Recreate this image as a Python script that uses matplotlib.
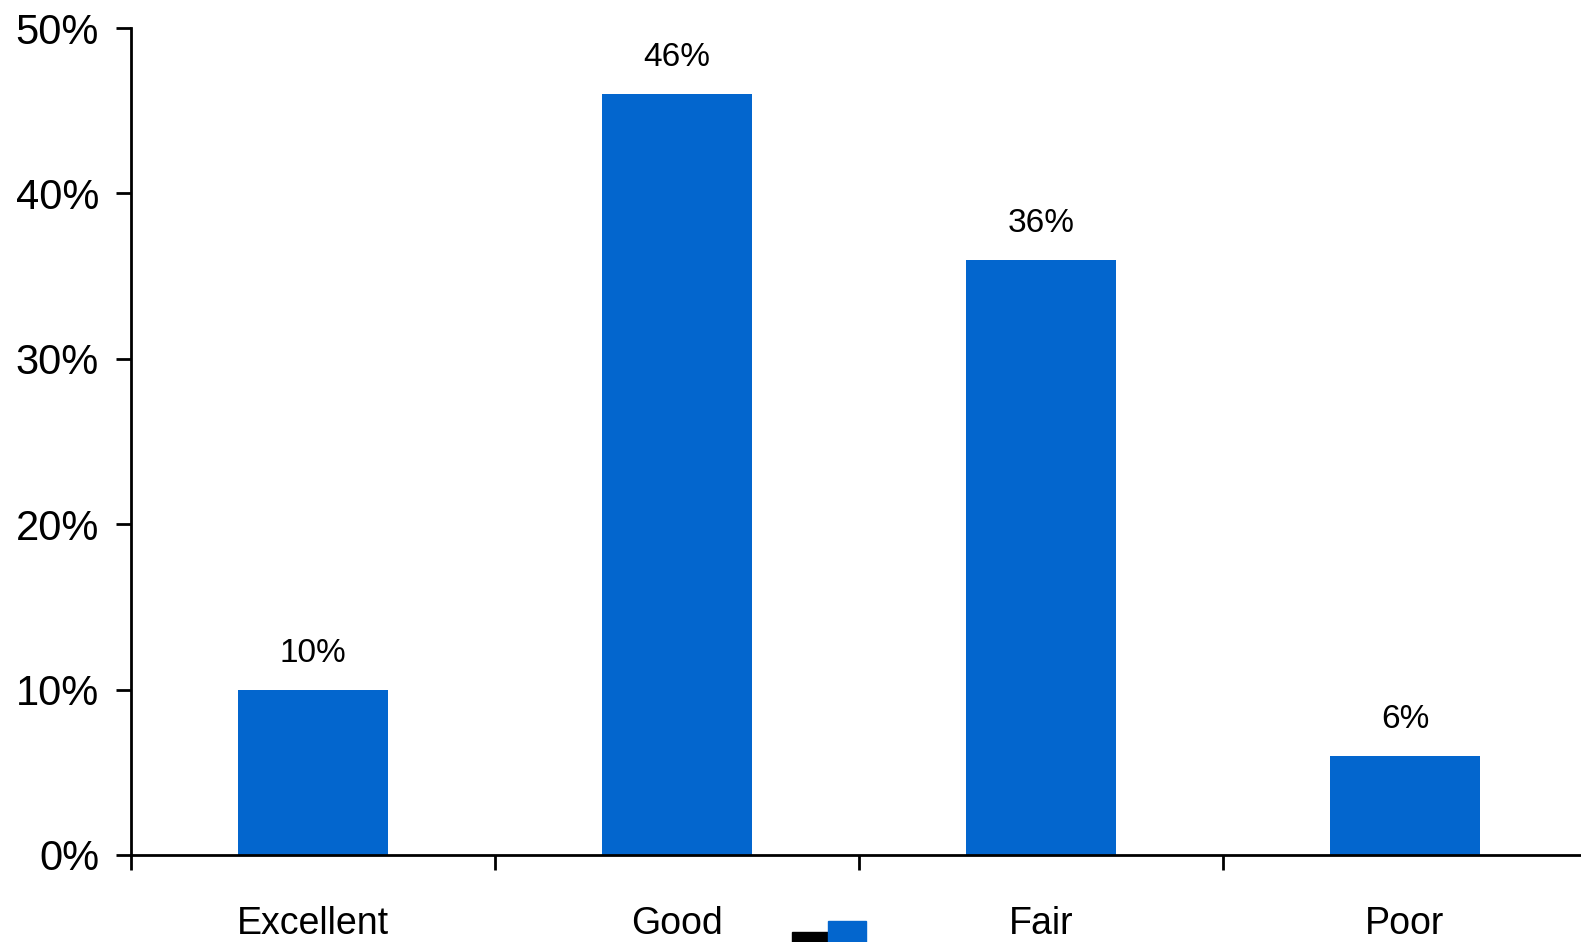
import matplotlib.pyplot as plt
from matplotlib.patches import Rectangle
from matplotlib.ticker import FixedLocator, PercentFormatter

categories = ['Excellent', 'Good', 'Fair', 'Poor']
values = [10, 46, 36, 6]
value_labels = ['10%', '46%', '36%', '6%']
yticks = [0, 10, 20, 30, 40, 50]

blue = '#0366CE'
plt.rcParams['font.family'] = ['Liberation Sans', 'DejaVu Sans']

fig = plt.figure(figsize=(15.81, 9.42), dpi=100)
ax = fig.add_axes([131 / 1581, 87 / 942, 1456 / 1581, 827 / 942])

x = list(range(len(categories)))
bars = ax.bar(x, values, width=0.41, color=blue, zorder=2)

for b, lab in zip(bars, value_labels):
    ax.annotate(lab, (b.get_x() + b.get_width() / 2, b.get_height()),
                xytext=(0, 15), textcoords='offset points',
                ha='center', va='bottom', fontsize=24)

ax.set_xlim(-0.5, len(categories) - 0.5)
ax.set_ylim(0, 50)
ax.set_yticks(yticks)
ax.yaxis.set_major_formatter(PercentFormatter(decimals=0))

# boundary ticks, labels in the middle of each category
ax.xaxis.set_major_locator(FixedLocator([i - 0.5 for i in range(len(categories) + 1)]))
ax.xaxis.set_minor_locator(FixedLocator(x))
ax.set_xticklabels([], minor=False)
ax.set_xticklabels(categories, minor=True)
ax.tick_params(axis='x', which='major', direction='out', length=11, width=2)
ax.tick_params(axis='x', which='minor', length=0, pad=37, labelsize=27)
ax.tick_params(axis='y', direction='out', length=11, width=2, pad=12, labelsize=30)

for s in ['top', 'right']:
    ax.spines[s].set_visible(False)
for s in ['left', 'bottom']:
    ax.spines[s].set_linewidth(2)

# clipped legend swatches at the bottom edge
fig.add_artist(Rectangle((792 / 1581, 0), 36 / 1581, 10 / 942,
                         transform=fig.transFigure, color='black'))
fig.add_artist(Rectangle((828 / 1581, 0), 38 / 1581, 21 / 942,
                         transform=fig.transFigure, color=blue))

fig.savefig('out.png', dpi=100)
